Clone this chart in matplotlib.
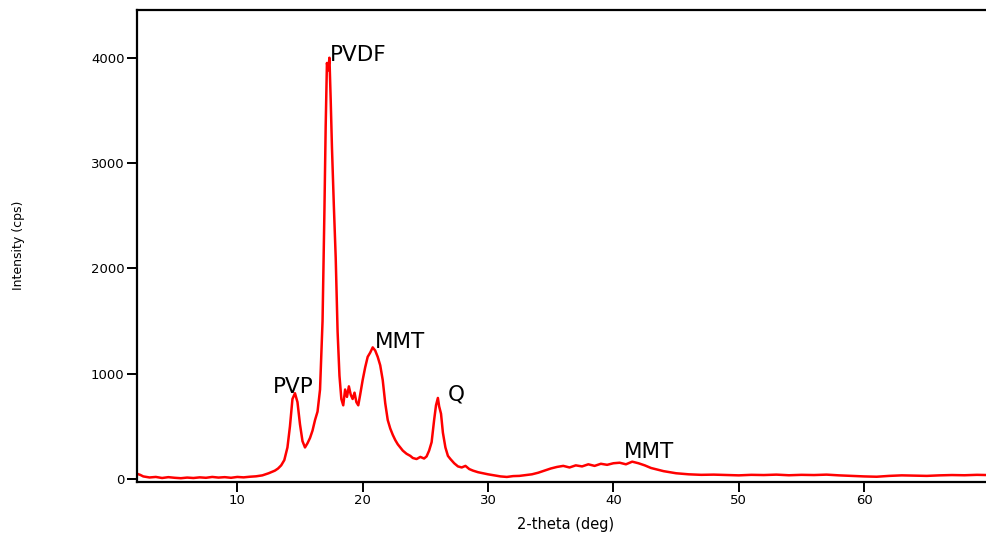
import matplotlib.pyplot as plt

# XRD pattern
two_theta = [2.0, 2.25, 2.5, 3.0, 3.5, 4.0, 4.5, 5.0, 5.5, 6.0, 6.5, 7.0, 7.5, 8.0,
             8.5, 9.0, 9.5, 10.0, 10.5, 11.0, 11.5, 12.0, 12.5, 13.0, 13.25, 13.5,
             13.75, 14.0, 14.2, 14.4, 14.6, 14.8, 15.0, 15.2, 15.4, 15.6, 15.8,
             16.0, 16.2, 16.4, 16.6, 16.8, 16.95, 17.05, 17.15, 17.25, 17.35,
             17.45, 17.55, 17.7, 17.85, 18.0, 18.15, 18.3, 18.45, 18.6, 18.75,
             18.9, 19.05, 19.2, 19.35, 19.5, 19.65, 19.8, 20.0, 20.2, 20.4, 20.6,
             20.8, 21.0, 21.2, 21.4, 21.6, 21.8, 22.0, 22.2, 22.4, 22.6, 22.8,
             23.0, 23.2, 23.5, 23.8, 24.0, 24.3, 24.6, 24.9, 25.1, 25.3, 25.5,
             25.7, 25.85, 26.0, 26.1, 26.25, 26.4, 26.6, 26.8, 27.0, 27.3, 27.6,
             27.9, 28.2, 28.5, 28.8, 29.2, 29.6, 30.0, 30.5, 31.0, 31.5, 32.0,
             32.5, 33.0, 33.5, 34.0, 34.5, 35.0, 35.5, 36.0, 36.5, 37.0, 37.5,
             38.0, 38.5, 39.0, 39.5, 40.0, 40.5, 41.0, 41.5, 42.0, 42.5, 43.0,
             43.5, 44.0, 44.5, 45.0, 46.0, 47.0, 48.0, 49.0, 50.0, 51.0, 52.0,
             53.0, 54.0, 55.0, 56.0, 57.0, 58.0, 59.0, 60.0, 61.0, 62.0, 63.0,
             64.0, 65.0, 66.0, 67.0, 68.0, 69.0, 69.8]
intensity = [50, 40, 25, 15, 20, 10, 18, 12, 8, 14, 10, 16, 12, 20,
             14, 18, 12, 20, 16, 22, 26, 35, 55, 80, 100, 130,
             180, 300, 500, 760, 815, 730, 520, 360, 300, 340, 390,
             460, 560, 640, 850, 1500, 2550, 3350, 3950, 3880, 4000,
             3600, 3150, 2600, 2100, 1400, 980, 760, 700, 850, 780,
             880, 800, 760, 820, 730, 700, 800, 940, 1060, 1160, 1200,
             1250, 1220, 1160, 1080, 940, 720, 560, 480, 420, 370, 330,
             300, 270, 240, 220, 200, 190, 210, 195, 215, 270, 350,
             560, 700, 770, 690, 620, 440, 300, 220, 190, 150, 120,
             110, 125, 95, 80, 65, 55, 45, 35, 25, 20, 28,
             30, 38, 45, 60, 80, 100, 115, 125, 110, 130, 120,
             140, 125, 145, 135, 150, 155, 140, 165, 150, 130, 105,
             90, 75, 65, 55, 45, 40, 42, 38, 35, 40, 38,
             42, 36, 40, 38, 42, 35, 30, 25, 22, 30, 35,
             32, 30, 35, 38, 36, 40, 38]

# peak labels: text, x, y (baseline-left)
peak_names = ["PVDF", "MMT", "PVP", "Q", "MMT"]
peak_x = [17.35, 21.0, 12.8, 26.8, 40.8]
peak_y = [3970, 1240, 817, 745, 200]

fig = plt.figure(figsize=(9.87, 5.37), dpi=100)
ax = fig.add_axes([137 / 987, 1 - 482 / 537, 850 / 987, 472 / 537])

ax.plot(two_theta, intensity, color="#ff0000", linewidth=1.8)

for name, px, py in zip(peak_names, peak_x, peak_y):
    ax.text(px, py, name, fontsize=15.5, ha="left", va="baseline",
            color="black")

ax.set_xlim(2, 69.8)
ax.set_ylim(-28, 4453)
ax.set_xticks([10, 20, 30, 40, 50, 60])
ax.set_yticks([0, 1000, 2000, 3000, 4000])
ax.tick_params(direction="out", length=7, width=1.4, labelsize=9.5, pad=2)
ax.spines["right"].set_visible(False)
for side in ["left", "top", "bottom"]:
    ax.spines[side].set_linewidth(1.6)

fig.text(566 / 987, 1 - 524 / 537, "2-theta (deg)", fontsize=10.5,
         ha="center", va="center")
fig.text(19 / 987, 1 - 245 / 537, "Intensity (cps)", rotation=90,
         fontsize=9, ha="center", va="center")

fig.savefig("out.png", dpi=100)
